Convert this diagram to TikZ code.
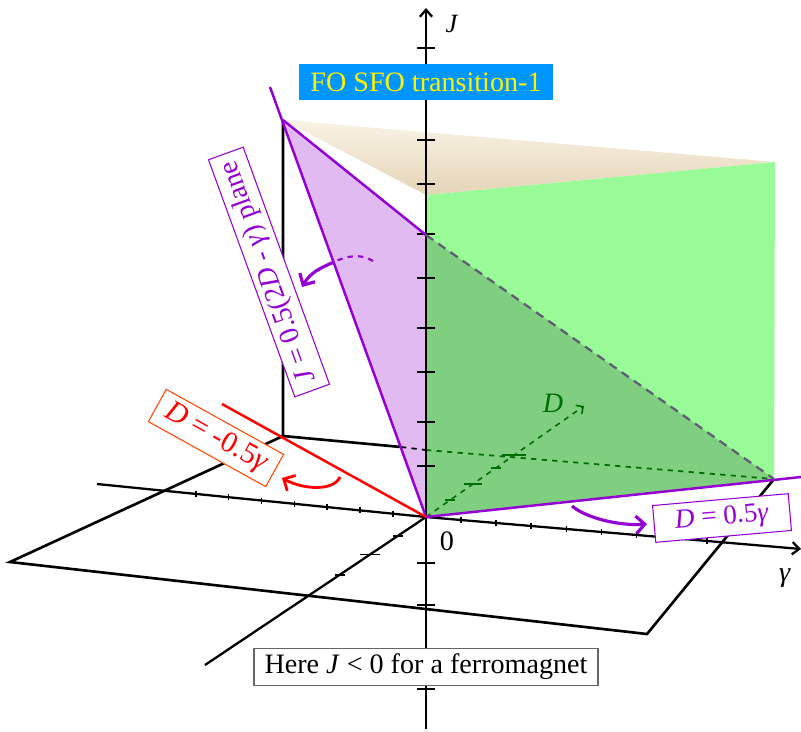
\documentclass[tikz,border=0pt]{standalone}
\usepackage{fontspec}
\setmainfont{Liberation Serif}
\usetikzlibrary{arrows.meta,calc}

\definecolor{dviolet}{RGB}{148,0,211}
\definecolor{palegrn}{RGB}{152,251,152}
\definecolor{darkgrn}{RGB}{0,110,0}
\definecolor{lavend}{RGB}{224,186,240}
\definecolor{shadegrn}{RGB}{128,206,128}
\definecolor{tanlight}{RGB}{249,243,230}
\definecolor{tandark}{RGB}{228,212,182}
\definecolor{skyblue}{RGB}{0,150,255}
\definecolor{orred}{RGB}{255,70,0}
\definecolor{hidgray}{RGB}{95,95,115}

\begin{document}
\begin{tikzpicture}[x=0.02cm, y=-0.02cm,
    >={Straight Barb[length=4pt,width=7pt]},
    axis/.style={line width=1.3pt},
    edge/.style={line width=1.5pt},
    vline/.style={dviolet, line width=1.4pt},
    bigtext/.style={font=\fontsize{16pt}{19pt}\selectfont},
    labbox/.style={bigtext, fill=white, minimum height=21pt, inner ysep=0pt, line width=0.6pt},
    bendarrow/.style={line width=1.8pt, -{Straight Barb[length=5pt,width=10pt]}}]
    \useasboundingbox (0,0) rectangle (801,731);

    % corner points
    \coordinate (O) at (426,517);
    \coordinate (topL) at (283,120);
    \coordinate (topR) at (775,162);
    \coordinate (gTop) at (426,195);
    \coordinate (pTop) at (426,235);
    \coordinate (gBot) at (774,479);
    \coordinate (bkL) at (283,436);
    \coordinate (bkHid) at (401,447);
    \coordinate (bkJ) at (426,450);
    \coordinate (frL) at (10,562);
    \coordinate (frR) at (647,634);
    % axis ends
    \coordinate (Jtop) at (426,8);
    \coordinate (Jbot) at (426,729);
    \coordinate (gNeg) at (97,484);
    \coordinate (gPos) at (801,549);
    \coordinate (Dneg) at (205,665);
    \coordinate (Dpos) at (584,406);
    % line ends
    \coordinate (redEnd) at (222,404);
    \coordinate (vTop) at (270,87);
    \coordinate (vEnd) at (801,477);

    % planes
    \shade[top color=tanlight, bottom color=tandark] (topL) -- (topR) -- (gTop) -- cycle;
    \fill[palegrn] (gTop) -- (topR) -- (gBot) -- (O) -- cycle;
    \fill[lavend] (topL) -- (pTop) -- (O) -- cycle;
    \fill[shadegrn] (pTop) -- (gBot) -- (O) -- cycle;

    % box edges
    \draw[edge] (topL) -- (bkL) -- (bkHid);
    \draw[line width=1pt, dashed] (bkHid) -- (bkJ);
    \draw[darkgrn, line width=1pt, dashed] (bkJ) -- (gBot);
    \draw[edge] (bkL) -- (frL) -- (frR) -- (gBot);

    % axes
    \draw[axis] (gNeg) -- (O);
    \draw[axis, ->] (O) -- (gPos);
    \draw[axis] (Dneg) -- (O);
    \draw[darkgrn, line width=0.9pt, dashed, -{Straight Barb[length=3pt,width=6pt]}] (O) -- (Dpos);
    \draw[axis, ->] (Jbot) -- (Jtop);

    % ticks
    \foreach \y in {48,94,140,184,234,278,328,372,422,466,563,605,650,689}
        \draw[axis] (417,\y) -- (435,\y);
    \foreach \k in {1,...,7}
        \draw[line width=1pt] ($(O)!{\k*0.1}!(gNeg)$) +(0,-3) -- +(0,3);
    \foreach \k in {1,...,8}
        \draw[line width=1pt] ($(O)!{\k*0.0936}!(gPos)$) +(0,-3) -- +(0,3);
    \foreach \t/\w in {0.127/5, 0.253/10, 0.39/5}
        \draw[line width=1pt] ($(O)!\t!(Dneg)$) +(-\w,0) -- +(\w,0);
    \foreach \t/\w in {0.153/5, 0.30/9, 0.44/5, 0.56/12}
        \draw[darkgrn, line width=0.9pt] ($(O)!\t!(Dpos)$) +(-\w,0) -- +(\w,0);

    % plane edges
    \draw[vline] (vTop) -- (O) -- (vEnd);
    \draw[vline] (topL) -- (pTop);
    \draw[hidgray, line width=1.3pt, dash pattern=on 5pt off 3.5pt] (pTop) -- (gBot);
    \draw[red, line width=1.4pt] (redEnd) -- (O);

    % labels
    \node[labbox, fill=skyblue, text=yellow, inner xsep=6.5pt] (title) at (426,82) {FO SFO transition-1};
    \node[labbox, draw=dviolet, text=dviolet, inner xsep=5pt, rotate=110] (planelab) at (269,272)
        {\textit{J} = 0.5(2\textit{D} - \textit{γ}) plane};
    \node[labbox, draw=orred, text=red, inner xsep=6pt, rotate=-29,
        font=\fontsize{17pt}{20pt}\selectfont] (neglab) at (216,438) {\textit{D} = -0.5\textit{γ}};
    \node[labbox, draw=dviolet, text=dviolet, inner xsep=12pt, rotate=5,
        font=\fontsize{15.5pt}{19pt}\selectfont] (poslab) at (722,518) {\textit{D} = 0.5\textit{γ}};
    \node[labbox, draw=black!60, inner xsep=6pt] (note) at (426,667)
        {Here \textit{J} < 0 for a ferromagnet};
    \node[font=\fontsize{16pt}{18pt}\selectfont] (zero) at (447,541) {0};
    \node[font=\fontsize{15pt}{17pt}\selectfont] (Jlab) at (452,24) {\textit{J}};
    \node[font=\fontsize{16pt}{18pt}\selectfont] (glab) at (785,578) {\textit{γ}};
    \node[font=\fontsize{16pt}{18pt}\selectfont, text=darkgrn] (Dlab) at (553,403) {\textit{D}};

    % bent arrows
    \coordinate (pa1) at (373,261);
    \coordinate (pa2) at (334,262);
    \coordinate (pa3) at (302,287);
    \draw[dviolet, line width=1.2pt, dashed] (pa1) .. controls +(-12,-8) and +(12,-6) .. (pa2);
    \draw[dviolet, bendarrow] (pa2) .. controls +(-14,6) and +(8,-14) .. (pa3);
    \coordinate (ra1) at (340,477);
    \coordinate (ra2) at (282,478);
    \draw[red, bendarrow, line width=1.6pt] (ra1) .. controls +(-6,14) and +(22,12) .. (ra2);
    \coordinate (qa1) at (572,506);
    \coordinate (qa2) at (647,524);
    \draw[dviolet, bendarrow] (qa1) .. controls +(14,12) and +(-28,2) .. (qa2);
\end{tikzpicture}
\end{document}
